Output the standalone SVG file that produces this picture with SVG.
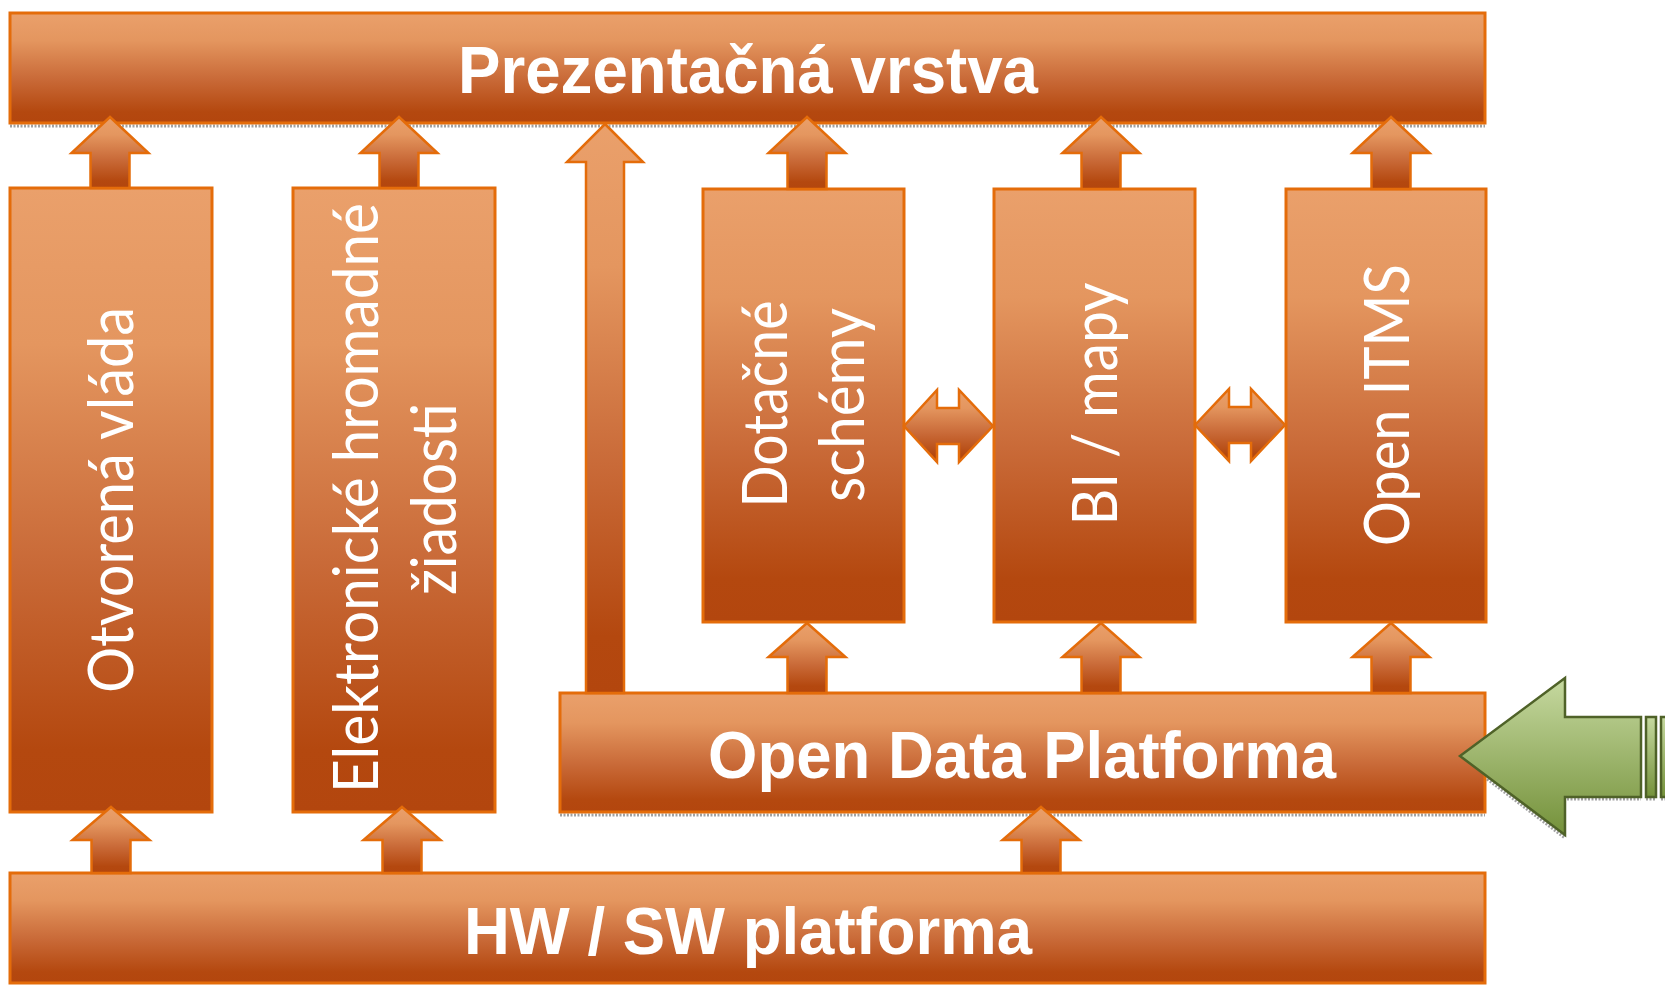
<svg xmlns="http://www.w3.org/2000/svg" width="1665" height="985" viewBox="0 0 1665 985">
<defs>
<linearGradient id="og" x1="0" y1="0" x2="0" y2="1">
<stop offset="0" stop-color="#eaa06b"/>
<stop offset="0.25" stop-color="#e4965f"/>
<stop offset="0.6" stop-color="#c96a38"/>
<stop offset="0.9" stop-color="#b4480f"/>
<stop offset="1" stop-color="#b3460e"/>
</linearGradient>
<linearGradient id="gg" x1="0" y1="0" x2="0" y2="1">
<stop offset="0" stop-color="#c6d9a0"/>
<stop offset="1" stop-color="#74913a"/>
</linearGradient>
<style>
.box{fill:url(#og);stroke:#e46c0a;stroke-width:3}
.arr{fill:url(#og);stroke:#e46c0a;stroke-width:2.5;stroke-linejoin:miter}
.sh{stroke:#8a8a8a;stroke-width:3;stroke-dasharray:2 1.5;fill:none;opacity:0.8}
.bt{font-family:"Liberation Sans",Arial,sans-serif;font-weight:bold;font-size:66px;fill:#fff;text-anchor:middle}
.vt{font-family:Lato,"Liberation Sans",sans-serif;font-size:61px;fill:#fff;text-anchor:middle}
</style>
</defs>
<rect width="1665" height="985" fill="#fff"/>

<g id="shadows">
<line class="sh" x1="10" y1="126" x2="1485" y2="126"/>
<line class="sh" x1="560" y1="815" x2="1485" y2="815"/>
<path class="sh" d="M1462,760 L1565,838"/>
<line class="sh" x1="1567" y1="799" x2="1641" y2="799"/>
<line class="sh" x1="1646" y1="799" x2="1656" y2="799"/>
<line class="sh" x1="1661" y1="799" x2="1665" y2="799"/>
</g>

<g id="prezentacna">
<rect class="box" x="10" y="13" width="1475" height="110"/>
<text class="bt" x="748" y="93" textLength="580" lengthAdjust="spacingAndGlyphs">Prezentačná vrstva</text>
</g>

<g id="otvorena">
<rect class="box" x="10" y="188" width="202" height="624"/>
<text class="vt" transform="translate(133,500) rotate(-90)" textLength="386" lengthAdjust="spacingAndGlyphs">Otvorená vláda</text>
</g>

<g id="elektronicke">
<rect class="box" x="293" y="188" width="202" height="624"/>
<text class="vt" transform="translate(378,498) rotate(-90)" textLength="590" lengthAdjust="spacingAndGlyphs">Elektronické hromadné</text>
<text class="vt" transform="translate(456,499) rotate(-90)" textLength="192" lengthAdjust="spacingAndGlyphs">žiadosti</text>
</g>

<g id="dotacne">
<rect class="box" x="703" y="189" width="201" height="433"/>
<text class="vt" transform="translate(787,404) rotate(-90)" textLength="207" lengthAdjust="spacingAndGlyphs">Dotačné</text>
<text class="vt" transform="translate(864,405) rotate(-90)" textLength="194" lengthAdjust="spacingAndGlyphs">schémy</text>
</g>

<g id="bimapy">
<rect class="box" x="994" y="189" width="201" height="433"/>
<text class="vt" transform="translate(1117,404) rotate(-90)" textLength="243" lengthAdjust="spacingAndGlyphs">BI / mapy</text>
</g>

<g id="openitms">
<rect class="box" x="1286" y="189" width="200" height="433"/>
<text class="vt" transform="translate(1409,405) rotate(-90)" textLength="282" lengthAdjust="spacingAndGlyphs">Open ITMS</text>
</g>

<g id="odp">
<rect class="box" x="560" y="693" width="925" height="119"/>
<text class="bt" x="1022" y="778" textLength="628" lengthAdjust="spacingAndGlyphs">Open Data Platforma</text>
</g>

<g id="hwsw">
<rect class="box" x="10" y="873" width="1475" height="110"/>
<text class="bt" x="748" y="954" textLength="568" lengthAdjust="spacingAndGlyphs">HW / SW platforma</text>
</g>

<g id="connectors">
<path class="arr" d="M110,117 L148.5,153 L129.5,153 L129.5,188 L90.5,188 L90.5,153 L71.5,153 Z"/>
<path class="arr" d="M399,117 L437.5,153 L418.5,153 L418.5,188 L379.5,188 L379.5,153 L360.5,153 Z"/>
<path class="arr" d="M807,117 L845.5,153 L826.5,153 L826.5,189 L787.5,189 L787.5,153 L768.5,153 Z"/>
<path class="arr" d="M1101,117 L1139.5,153 L1120.5,153 L1120.5,189 L1081.5,189 L1081.5,153 L1062.5,153 Z"/>
<path class="arr" d="M1391,117 L1429.5,153 L1410.5,153 L1410.5,189 L1371.5,189 L1371.5,153 L1352.5,153 Z"/>
<path class="arr" d="M605,124 L643,162 L624,162 L624,693 L586,693 L586,162 L567,162 Z"/>
<path class="arr" d="M807,623 L845.5,657 L826.5,657 L826.5,693 L787.5,693 L787.5,657 L768.5,657 Z"/>
<path class="arr" d="M1101,623 L1139.5,657 L1120.5,657 L1120.5,693 L1081.5,693 L1081.5,657 L1062.5,657 Z"/>
<path class="arr" d="M1391,623 L1429.5,657 L1410.5,657 L1410.5,693 L1371.5,693 L1371.5,657 L1352.5,657 Z"/>
<path class="arr" d="M111,807 L149.5,840 L130.5,840 L130.5,873 L91.5,873 L91.5,840 L72.5,840 Z"/>
<path class="arr" d="M402,807 L440.5,840 L421.5,840 L421.5,873 L382.5,873 L382.5,840 L363.5,840 Z"/>
<path class="arr" d="M1041,807 L1079.5,840 L1060.5,840 L1060.5,873 L1021.5,873 L1021.5,840 L1002.5,840 Z"/>
<path class="arr" d="M904,426 L937,390 L937,408 L959,408 L959,390 L993,426 L959,462 L959,444 L937,444 L937,462 Z"/>
<path class="arr" d="M1195,425 L1229,389 L1229,407 L1251,407 L1251,389 L1285,425 L1251,461 L1251,443 L1229,443 L1229,461 Z"/>
<path d="M1460,756 L1565,678 L1565,717 L1641,717 L1641,797 L1565,797 L1565,835 Z" fill="url(#gg)" stroke="#4f6228" stroke-width="2.5"/>
<rect x="1646" y="717" width="10" height="80" fill="url(#gg)" stroke="#4f6228" stroke-width="2.5"/>
<rect x="1661" y="717" width="10" height="80" fill="url(#gg)" stroke="#4f6228" stroke-width="2.5"/>
</g>
</svg>
